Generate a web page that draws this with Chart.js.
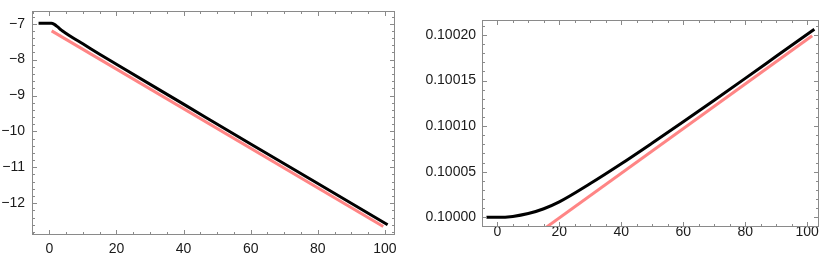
<!DOCTYPE html>
<html>
<head>
<meta charset="utf-8">
<script src="https://cdn.jsdelivr.net/npm/chart.js@4"></script>
<style>
html, body { margin: 0; padding: 0; background: #fff; }
#wrap { position: relative; width: 821px; height: 269px; }
.box { position: absolute; top: 0; height: 269px; }
</style>
</head>
<body>
<div id="wrap">
  <div class="box" style="left:0;width:410px"><canvas id="leftChart"></canvas></div>
  <div class="box" style="left:410px;width:411px"><canvas id="rightChart"></canvas></div>
</div>
<script>
// Left panel data
const leftBlackX = [-3.2, 0.6, 1.5, 2.5, 3.5, 4.7, 7, 10, 15, 20, 40, 60, 80, 100.8];
const leftBlackY = [-6.99, -6.99, -7.02, -7.09, -7.17, -7.25, -7.39, -7.56, -7.85, -8.13, -9.24, -10.35, -11.45, -12.6];
const leftPinkX = [0.7, 99.5];
const leftPinkY = [-7.2, -12.65];
const leftXTicks = [0, 20, 40, 60, 80, 100];
const leftYTicks = [-12, -11, -10, -9, -8, -7];

// Right panel data
const rightBlackX = [-3.5, 0, 5, 10, 15, 20, 30, 40, 50, 60, 70, 80, 90, 102.3];
const rightBlackY = [0.1, 0.1, 0.100001, 0.1000041, 0.1000094, 0.1000169, 0.100037, 0.1000587, 0.1000815, 0.1001048, 0.1001285, 0.1001524, 0.1001766, 0.1002064];
const rightPinkX = [14.6, 101.6];
const rightPinkY = [0.0999861, 0.1001992];
const rightXTicks = [0, 20, 40, 60, 80, 100];
const rightYTicks = [0.1, 0.10005, 0.1001, 0.10015, 0.1002];

const BLACK = '#000000';
const PINK = 'rgb(255,133,133)';
const FRAME = '#8a8a8a';
const LABEL = '#1a1a1a';

function pts(xs, ys) {
    return xs.map((x, i) => ({ x: x, y: ys[i] }));
}

// Mathematica-style frame with inward ticks on all four sides
function framePlugin(xMinor, yMinor) {
    return {
        id: 'frameTicks',
        afterDatasetsDraw(chart) {
            const ctx = chart.ctx;
            const a = chart.chartArea;
            const xs = chart.scales.x, ys = chart.scales.y;
            ctx.save();
            ctx.strokeStyle = FRAME;
            ctx.lineWidth = 1;
            ctx.strokeRect(Math.round(a.left) + 0.5, Math.round(a.top) + 0.5,
                Math.round(a.right - a.left) - 1, Math.round(a.bottom - a.top) - 1);
            ctx.beginPath();
            const majX = xs.ticks.map(t => t.value);
            const majY = ys.ticks.map(t => t.value);
            function drawX(v, len) {
                const p = Math.round(xs.getPixelForValue(v)) + 0.5;
                ctx.moveTo(p, a.bottom); ctx.lineTo(p, a.bottom - len);
                ctx.moveTo(p, a.top); ctx.lineTo(p, a.top + len);
            }
            function drawY(v, len) {
                const p = Math.round(ys.getPixelForValue(v)) + 0.5;
                ctx.moveTo(a.left, p); ctx.lineTo(a.left + len, p);
                ctx.moveTo(a.right, p); ctx.lineTo(a.right - len, p);
            }
            majX.forEach(v => drawX(v, 5));
            majY.forEach(v => drawY(v, 5));
            for (let k = Math.ceil(xs.min / xMinor); k * xMinor <= xs.max; k++) {
                const v = k * xMinor;
                if (!majX.some(m => Math.abs(m - v) < xMinor / 100)) drawX(v, 3);
            }
            for (let k = Math.ceil(ys.min / yMinor); k * yMinor <= ys.max; k++) {
                const v = k * yMinor;
                if (!majY.some(m => Math.abs(m - v) < yMinor / 100)) drawY(v, 3);
            }
            ctx.stroke();
            ctx.restore();
        }
    };
}

function noPad(s) {
    s.paddingTop = 0; s.paddingBottom = 0; s.paddingLeft = 0; s.paddingRight = 0;
}

function makeChart(id, cfg) {
    const ctx = document.getElementById(id).getContext('2d');
    return new Chart(ctx, {
        type: 'line',
        data: {
            datasets: [
                {
                    data: pts(cfg.pinkX, cfg.pinkY),
                    borderColor: PINK,
                    borderWidth: 3,
                    pointRadius: 0,
                    clip: 0
                },
                {
                    data: pts(cfg.blackX, cfg.blackY),
                    borderColor: BLACK,
                    borderWidth: 3,
                    pointRadius: 0,
                    cubicInterpolationMode: 'monotone',
                    clip: 0
                }
            ]
        },
        options: {
            responsive: true,
            maintainAspectRatio: false,
            animation: false,
            layout: { padding: cfg.padding },
            plugins: { legend: { display: false }, tooltip: { enabled: false } },
            scales: {
                x: {
                    type: 'linear',
                    min: cfg.xMin, max: cfg.xMax,
                    afterBuildTicks: s => { s.ticks = cfg.xTicks.map(v => ({ value: v })); },
                    afterFit: s => { s.height = cfg.xHeight; noPad(s); },
                    grid: { display: false, drawTicks: false },
                    border: { display: false },
                    ticks: {
                        color: LABEL, padding: cfg.xPad, maxRotation: 0,
                        font: { family: 'Liberation Sans, Arial, sans-serif', size: 14 },
                        callback: v => String(v)
                    }
                },
                y: {
                    type: 'linear',
                    min: cfg.yMin, max: cfg.yMax,
                    afterBuildTicks: s => { s.ticks = cfg.yTicks.map(v => ({ value: v })); },
                    afterFit: s => { s.width = cfg.yWidth; noPad(s); },
                    grid: { display: false, drawTicks: false },
                    border: { display: false },
                    ticks: {
                        color: LABEL, padding: cfg.yPad,
                        font: { family: 'Liberation Sans, Arial, sans-serif', size: 14 },
                        callback: cfg.yFormat
                    }
                }
            }
        },
        plugins: [framePlugin(cfg.xMinor, cfg.yMinor)]
    });
}

makeChart('leftChart', {
    blackX: leftBlackX, blackY: leftBlackY, pinkX: leftPinkX, pinkY: leftPinkY,
    xTicks: leftXTicks, yTicks: leftYTicks,
    xMin: -5.15, xMax: 103.0, yMin: -12.886, yMax: -6.646,
    xMinor: 5, yMinor: 0.2,
    padding: { top: 11, right: 15, left: 0, bottom: 0 },
    xHeight: 34, yWidth: 32, xPad: 6, yPad: 7,
    yFormat: v => String(v).replace('-', '\u2212')
});

makeChart('rightChart', {
    blackX: rightBlackX, blackY: rightBlackY, pinkX: rightPinkX, pinkY: rightPinkY,
    xTicks: rightXTicks, yTicks: rightYTicks,
    xMin: -4.94, xMax: 103.8, yMin: 0.09998936, yMax: 0.10021646,
    xMinor: 5, yMinor: 0.00001,
    padding: { top: 20, right: 2, left: 0, bottom: 0 },
    xHeight: 42, yWidth: 72, xPad: -3, yPad: 6,
    yFormat: v => Number(v).toFixed(5)
});
</script>
</body>
</html>
